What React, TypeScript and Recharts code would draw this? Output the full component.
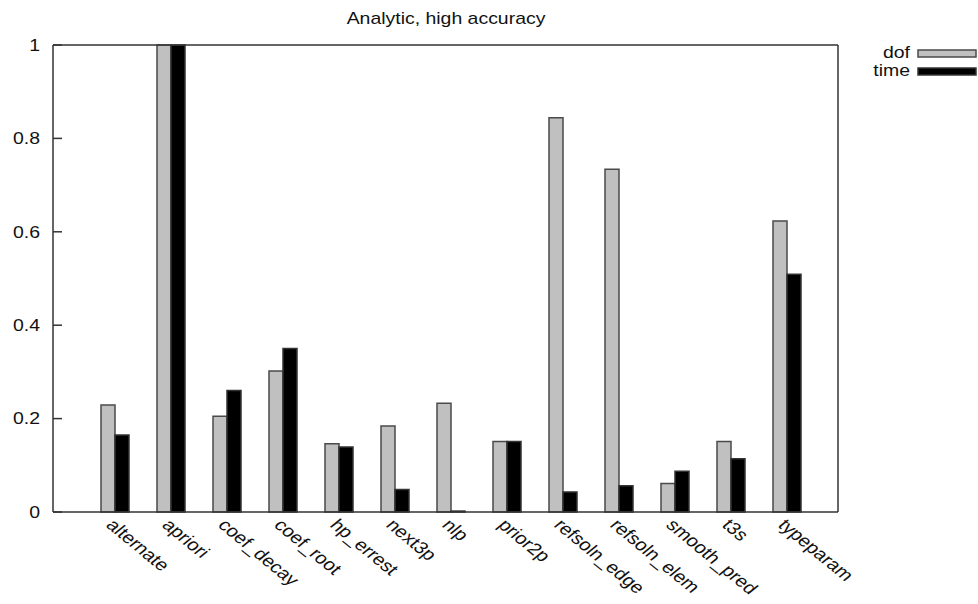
import React from 'react';
import { BarChart, Bar, XAxis, YAxis, ReferenceLine } from 'recharts';

const categories = ['alternate', 'apriori', 'coef_decay', 'coef_root', 'hp_errest', 'next3p', 'nlp', 'prior2p', 'refsoln_edge', 'refsoln_elem', 'smooth_pred', 't3s', 'typeparam'];
const dofValues = [0.229, 1.0, 0.205, 0.302, 0.146, 0.184, 0.233, 0.151, 0.844, 0.734, 0.061, 0.151, 0.623];
const timeValues = [0.165, 1.0, 0.26, 0.35, 0.139, 0.048, 0.002, 0.151, 0.043, 0.056, 0.087, 0.114, 0.509];
const yTicks = [0, 0.2, 0.4, 0.6, 0.8, 1];
const seriesNames = ['dof', 'time'];
const seriesFills = ['#c0c0c0', '#000000'];
const seriesStrokes = ['#4a4a4a', '#333333'];
const title = 'Analytic, high accuracy';

const data = categories.map((c, i) => ({ name: c, dof: dofValues[i], time: timeValues[i] }));

const FONT = '"Liberation Sans", Arial, Helvetica, sans-serif';
const SX = 1.215;

const YTickLeft = (props: any) => {
  const { x, y, payload } = props;
  return (
    <g>
      <line x1={x} x2={x + 9} y1={y} y2={y} stroke="#333" strokeWidth={1.5} />
      <text transform={`translate(${x - 13},${y}) scale(${SX},1)`} textAnchor="end" dy="0.36em" fontSize={16} fill="#111" fontFamily={FONT}>
        {String(payload.value)}
      </text>
    </g>
  );
};

const YTickRight = (props: any) => {
  const { x, y } = props;
  return <line x1={x} x2={x - 9} y1={y} y2={y} stroke="#333" strokeWidth={1.5} />;
};

const XTick = (props: any) => {
  const { x, y, payload } = props;
  return (
    <text transform={`translate(${x - 10},${y + 14}) scale(${SX},1) rotate(45)`} textAnchor="start" fontSize={16.8} fill="#111" fontFamily={FONT}>
      {payload.value}
    </text>
  );
};

export default function App() {
  return (
    <div style={{ position: 'absolute', left: 0, top: 0, width: 978, height: 604, background: '#fff' }}>
      <BarChart width={978} height={604} data={data} margin={{ top: 45, right: 0, bottom: 0, left: 0 }} barGap={0} barSize={14}>
        <XAxis dataKey="name" interval={0} height={92} padding={{ left: 34, right: 23 }} tickLine={false} tickSize={0} tickMargin={0} axisLine={{ stroke: '#333', strokeWidth: 1.5 }} tick={<XTick />} />
        <YAxis yAxisId="left" orientation="left" width={53} domain={[0, 1]} ticks={yTicks} type="number" tickLine={false} tickSize={0} tickMargin={0} axisLine={{ stroke: '#333', strokeWidth: 1.5 }} tick={<YTickLeft />} />
        <YAxis yAxisId="right" orientation="right" width={140} domain={[0, 1]} ticks={yTicks} type="number" tickLine={false} tickSize={0} tickMargin={0} axisLine={{ stroke: '#333', strokeWidth: 1.5 }} tick={<YTickRight />} />
        <Bar yAxisId="left" dataKey="dof" fill={seriesFills[0]} stroke={seriesStrokes[0]} strokeWidth={1.5} isAnimationActive={false} />
        <Bar yAxisId="left" dataKey="time" fill={seriesFills[1]} stroke={seriesStrokes[1]} strokeWidth={1.5} isAnimationActive={false} />
        <ReferenceLine yAxisId="left" y={1} stroke="#333" strokeWidth={1.5} />
      </BarChart>
      <svg width={978} height={604} style={{ position: 'absolute', left: 0, top: 0, pointerEvents: 'none' }}>
        <text transform={`translate(446,24) scale(${SX},1)`} textAnchor="middle" fontSize={16} fill="#111" fontFamily={FONT}>
          {title}
        </text>
        {seriesNames.map((n, i) => (
          <g key={n}>
            <text transform={`translate(910,${58 + i * 18}) scale(${SX},1)`} textAnchor="end" fontSize={16} fill="#111" fontFamily={FONT}>
              {n}
            </text>
            <rect x={918} y={50 + i * 18} width={58} height={7} fill={seriesFills[i]} stroke={seriesStrokes[i]} strokeWidth={1.5} />
          </g>
        ))}
      </svg>
    </div>
  );
}
